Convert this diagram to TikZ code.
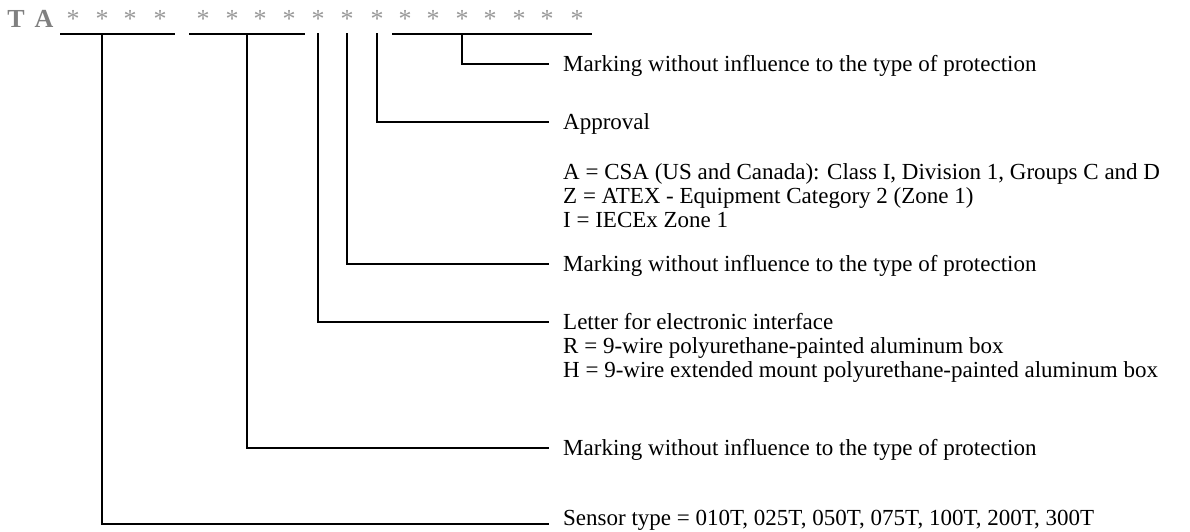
\documentclass[tikz,border=0pt]{standalone}
\usepackage{fontspec}
\setmainfont{Liberation Serif}
\begin{document}
\begin{tikzpicture}[x=1pt,y=-1pt,
  conn/.style={line width=2.8pt,line cap=rect},
  bar/.style={line width=2.8pt},
  desc/.style={anchor=base west,inner sep=0pt,font=\fontsize{23}{27}\selectfont},
  hdr/.style={anchor=base,inner sep=0pt,font=\fontsize{26}{30}\selectfont\bfseries,text=black!50},
  ast/.style={anchor=base,inner sep=0pt,font=\fontsize{26}{30}\selectfont,text=black!40}]
\useasboundingbox (0,0) rectangle (1190,531);
% header
\node[hdr] (hT) at (16,27) {T};
\node[hdr] (hA) at (44,27) {A};
\foreach \i/\x in {1/73,2/102,3/130,4/160,5/203,6/232,7/260,8/289,9/318,10/347,11/377,12/405,13/433,14/462,15/490,16/519,17/547,18/577}
  \node[ast] (a\i) at (\x,27) {*};
% group bars
\coordinate (g1l) at (60,34);  \coordinate (g1r) at (175,34);
\coordinate (g2l) at (189,34); \coordinate (g2r) at (305,34);
\coordinate (g4l) at (392,34); \coordinate (g4r) at (592,34);
\draw[bar] (g1l) -- (g1r);
\draw[bar] (g2l) -- (g2r);
\draw[bar] (g4l) -- (g4r);
% stem tops
\coordinate (s1) at (102,34);
\coordinate (s2) at (247,34);
\coordinate (s3) at (318,34);
\coordinate (s4) at (347,34);
\coordinate (s5) at (377,34);
\coordinate (s6) at (462,34);
% line ends
\coordinate (e6) at (548,64);
\coordinate (e5) at (548,122);
\coordinate (e4) at (548,264);
\coordinate (e3) at (548,322);
\coordinate (e2) at (548,448);
\coordinate (e1) at (548,524);
\draw[conn] (s6) |- (e6);
\draw[conn] (s5) |- (e5);
\draw[conn] (s4) |- (e4);
\draw[conn] (s3) |- (e3);
\draw[conn] (s2) |- (e2);
\draw[conn] (s1) |- (e1);
% texts
\node[desc] (t6) at (563,71.5) {Marking without influence to the type of protection};
\node[desc] (t5) at (563,129.5) {Approval};
\node[desc] (t5a) at (563,179) {A = CSA (US and Canada): Class I, Division 1, Groups C and D};
\node[desc] (t5b) at (563,203) {Z = ATEX - Equipment Category 2 (Zone 1)};
\node[desc] (t5c) at (563,227) {I = IECEx Zone 1};
\node[desc] (t4) at (563,271.5) {Marking without influence to the type of protection};
\node[desc] (t3) at (563,329.5) {Letter for electronic interface};
\node[desc] (t3a) at (563,353) {R = 9-wire polyurethane-painted aluminum box};
\node[desc] (t3b) at (563,377) {H = 9-wire extended mount polyurethane-painted aluminum box};
\node[desc] (t2) at (563,455.5) {Marking without influence to the type of protection};
\node[desc] (t1) at (563,525.5) {Sensor type = 010T, 025T, 050T, 075T, 100T, 200T, 300T};
\end{tikzpicture}
\end{document}
